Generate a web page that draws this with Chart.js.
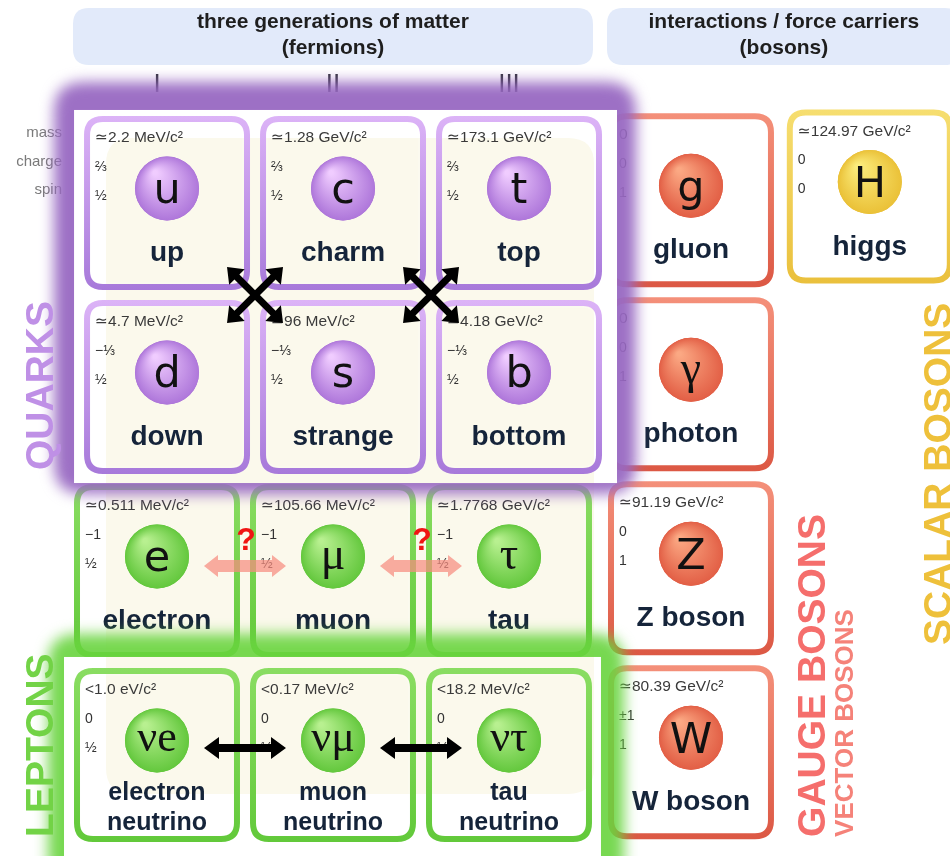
<!DOCTYPE html>
<html>
<head>
<meta charset="utf-8">
<script src="https://cdn.jsdelivr.net/npm/chart.js@4.4.1/dist/chart.umd.min.js"></script>
<style>
html,body{margin:0;padding:0;background:#ffffff;}
#wrap{width:950px;height:856px;position:relative;}
</style>
</head>
<body>
<div id="wrap"><canvas id="c"></canvas></div>
<script>
// ---------------- DATA ----------------
const symbols  = ['u','c','t','d','s','b','e','μ','τ','νe','νμ','ντ','g','γ','Z','W','H'];
const names    = ['up','charm','top','down','strange','bottom','electron','muon','tau',
                  'electron\nneutrino','muon\nneutrino','tau\nneutrino','gluon','photon','Z boson','W boson','higgs'];
const masses   = ['≃2.2 MeV/c²','≃1.28 GeV/c²','≃173.1 GeV/c²','≃4.7 MeV/c²','≃96 MeV/c²','≃4.18 GeV/c²',
                  '≃0.511 MeV/c²','≃105.66 MeV/c²','≃1.7768 GeV/c²','<1.0 eV/c²','<0.17 MeV/c²','<18.2 MeV/c²',
                  '0','0','≃91.19 GeV/c²','≃80.39 GeV/c²','≃124.97 GeV/c²'];
const charges  = ['⅔','⅔','⅔','−⅓','−⅓','−⅓','−1','−1','−1','0','0','0','0','0','0','±1','0'];
const spins    = ['½','½','½','½','½','½','½','½','½','½','½','½','1','1','1','1','0'];
const columns  = [0,1,2,0,1,2,0,1,2,0,1,2,3,3,3,3,4];
const rows     = [0,0,0,1,1,1,2,2,2,3,3,3,0,1,2,3,0];
const families = ['quark','quark','quark','quark','quark','quark',
                  'lepton','lepton','lepton','neutrino','neutrino','neutrino',
                  'gauge','gauge','gauge','gauge','scalar'];
const generationLabels = ['I','II','III'];
const propertyLabels   = ['mass','charge','spin'];
const headerLines      = [['three generations of matter','(fermions)'],['interactions / force carriers','(bosons)']];
const groupLabels      = ['QUARKS','LEPTONS','GAUGE BOSONS','VECTOR BOSONS','SCALAR BOSONS'];
const quarkMixing      = [0,1];   // X-arrows between generation k and k+1
const leptonMixing     = [0,1];   // arrows between generation k and k+1

// ---------------- LAYOUT / STYLE ----------------
const X_MIN=-0.892, X_MAX=4.5057, Y_MIN=-1.1033, Y_MAX=3.5489;
const CELL_W=0.943, CELL_H=0.946, CIRCLE_DY=-0.079;
const familyOffset = {quark:{dx:0.057,dy:0}, lepton:{dx:0,dy:0}, neutrino:{dx:0,dy:0},
                      gauge:{dx:0.034,dy:-0.015}, scalar:{dx:0.05,dy:-0.035}};
const style = {
  quark:   {border:['#dcb3f7','#a779da'], circle:['#f0ccff','#a56bd5'], fill:'rgba(0,0,0,0)'},
  lepton:  {border:['#8add62','#62c93a'], circle:['#b8f090','#58c232'], fill:'rgba(0,0,0,0)'},
  neutrino:{border:['#8add62','#62c93a'], circle:['#b8f090','#58c232'], fill:'rgba(0,0,0,0)'},
  gauge:   {border:['#f4907a','#dc5844'], circle:['#fba883','#df553d'], fill:'#ffffff'},
  scalar:  {border:['#f6de70','#eac03c'], circle:['#fbec7c','#e8bb2e'], fill:'#ffffff'}
};
const groupLabelLayout = [
  {x:-0.591, y:1.451, size:39, color:'#bf90e6'},
  {x:-0.591, y:3.445, size:39, color:'#72d346'},
  {x:3.795,  y:3.445, size:39, color:'#f56e6c'},
  {x:3.954,  y:3.445, size:26, color:'#f58279'},
  {x:4.511,  y:2.402, size:39, color:'#eec03a'}
];
const HEADER_ROW=-0.905, NUMERAL_ROW=-0.64;
const SANS='"Liberation Sans", Arial, "DejaVu Sans", sans-serif';

function rrect(ctx,x,y,w,h,r){
  ctx.beginPath();
  ctx.moveTo(x+r,y); ctx.lineTo(x+w-r,y); ctx.quadraticCurveTo(x+w,y,x+w,y+r);
  ctx.lineTo(x+w,y+h-r); ctx.quadraticCurveTo(x+w,y+h,x+w-r,y+h);
  ctx.lineTo(x+r,y+h); ctx.quadraticCurveTo(x,y+h,x,y+h-r);
  ctx.lineTo(x,y+r); ctx.quadraticCurveTo(x,y,x+r,y); ctx.closePath();
}
function cellBox(chart,i){
  const xs=chart.scales.x, ys=chart.scales.y, f=familyOffset[families[i]];
  const cx=xs.getPixelForValue(columns[i]+f.dx), cy=ys.getPixelForValue(rows[i]+f.dy);
  const w=Math.abs(xs.getPixelForValue(CELL_W)-xs.getPixelForValue(0));
  const h=Math.abs(ys.getPixelForValue(CELL_H)-ys.getPixelForValue(0));
  return {x:cx-w/2,y:cy-h/2,w,h,cx,cy};
}
function bounds(chart,pred){
  let l=1e9,t=1e9,r=-1e9,b=-1e9;
  symbols.forEach((_,i)=>{ if(!pred(i))return; const c=cellBox(chart,i);
    l=Math.min(l,c.x); t=Math.min(t,c.y); r=Math.max(r,c.x+c.w); b=Math.max(b,c.y+c.h); });
  return {l,t,r,b};
}
function drawCell(ctx,c,fam){
  const s=style[fam];
  rrect(ctx,c.x+3,c.y+3,c.w-6,c.h-6,16);
  ctx.fillStyle=s.fill; ctx.fill();
  const g=ctx.createLinearGradient(0,c.y,0,c.y+c.h);
  g.addColorStop(0,s.border[0]); g.addColorStop(1,s.border[1]);
  ctx.lineWidth=6; ctx.strokeStyle=g; ctx.stroke();
  rrect(ctx,c.x+7,c.y+7,c.w-14,c.h-14,12);
  ctx.lineWidth=1; ctx.strokeStyle='rgba(255,255,255,0.35)'; ctx.stroke();
}
function drawCellText(ctx,c,i){
  ctx.fillStyle='#3a3a3a'; ctx.textAlign='left'; ctx.textBaseline='middle';
  ctx.font='15.5px '+SANS; ctx.fillText(masses[i],c.x+11,c.y+22);
  ctx.font='14px '+SANS; ctx.fillStyle='#333';
  ctx.fillText(charges[i],c.x+11,c.y+51);
  ctx.fillText(spins[i],c.x+11,c.y+80);
  ctx.fillStyle='#15243a'; ctx.textAlign='center'; ctx.textBaseline='alphabetic';
  const lines=names[i].split('\n');
  if(lines.length===1){ ctx.font='bold 28px '+SANS; ctx.fillText(lines[0],c.cx,c.y+145); }
  else { ctx.font='bold 25px '+SANS; ctx.fillText(lines[0],c.cx,c.y+132); ctx.fillText(lines[1],c.cx,c.y+162); }
}
function dblArrow(ctx,x1,y1,x2,y2,sw,hl,hw,color){
  const L=Math.hypot(x2-x1,y2-y1), ux=(x2-x1)/L, uy=(y2-y1)/L, nx=-uy, ny=ux;
  const a=[x1+ux*hl,y1+uy*hl], b=[x2-ux*hl,y2-uy*hl];
  ctx.beginPath();
  ctx.moveTo(x1,y1);
  ctx.lineTo(a[0]+nx*hw,a[1]+ny*hw); ctx.lineTo(a[0]+nx*sw/2,a[1]+ny*sw/2);
  ctx.lineTo(b[0]+nx*sw/2,b[1]+ny*sw/2); ctx.lineTo(b[0]+nx*hw,b[1]+ny*hw);
  ctx.lineTo(x2,y2);
  ctx.lineTo(b[0]-nx*hw,b[1]-ny*hw); ctx.lineTo(b[0]-nx*sw/2,b[1]-ny*sw/2);
  ctx.lineTo(a[0]-nx*sw/2,a[1]-ny*sw/2); ctx.lineTo(a[0]-nx*hw,a[1]-ny*hw);
  ctx.closePath(); ctx.fillStyle=color; ctx.fill();
}

const tablePlugin = {
  id:'particleTable',
  beforeDatasetsDraw(chart){
    const ctx=chart.ctx, xs=chart.scales.x, ys=chart.scales.y;
    ctx.save();
    const fb=bounds(chart,i=>families[i]==='lepton'||families[i]==='neutrino');
    const bb=bounds(chart,i=>families[i]==='gauge'||families[i]==='scalar');
    const hy=ys.getPixelForValue(HEADER_ROW);
    const banners=[[fb.l-1,fb.r+1],[bb.l-1,bb.r+8]];
    banners.forEach((bn,k)=>{
      rrect(ctx,bn[0],hy-28.5,bn[1]-bn[0],57,16); ctx.fillStyle='#e2eafa'; ctx.fill();
      ctx.fillStyle='#1e1e1e'; ctx.font='bold 21px '+SANS; ctx.textAlign='center'; ctx.textBaseline='middle';
      const mx=(bn[0]+bn[1])/2;
      ctx.fillText(headerLines[k][0],mx,hy-14); ctx.fillText(headerLines[k][1],mx,hy+12);
    });
    ctx.font='26px '+SANS; ctx.fillStyle='#33333d'; ctx.textAlign='center'; ctx.textBaseline='middle';
    generationLabels.forEach((g,k)=>ctx.fillText(g,xs.getPixelForValue(k),ys.getPixelForValue(NUMERAL_ROW)));
    const up=cellBox(chart,0);
    ctx.font='15px '+SANS; ctx.fillStyle='#7a7a7a'; ctx.textAlign='right';
    propertyLabels.forEach((p,k)=>ctx.fillText(p,62,up.y+17+k*28.5));
    const ferm=bounds(chart,i=>families[i]!=='gauge'&&families[i]!=='scalar');
    const drawBlob=()=>{ rrect(ctx,ferm.l+32,ferm.t+22,ferm.r-ferm.l-40,ferm.b-ferm.t-70,26); ctx.fillStyle='#fbf9ec'; ctx.fill(); };
    drawBlob();
    const outer=i=>families[i]==='lepton'||families[i]==='gauge'||families[i]==='scalar';
    symbols.forEach((_,i)=>{ if(outer(i)) drawCell(ctx,cellBox(chart,i),families[i]); });
    symbols.forEach((_,i)=>{ if(outer(i)) drawCellText(ctx,cellBox(chart,i),i); });
    const qb=bounds(chart,i=>families[i]==='quark');
    const nb=bounds(chart,i=>families[i]==='neutrino');
    ctx.save(); ctx.filter='blur(7px)';
    rrect(ctx,qb.l-30,qb.t-34,qb.r-qb.l+64,qb.b-qb.t+54,30); ctx.fillStyle='rgba(152,104,194,0.95)'; ctx.fill();
    rrect(ctx,nb.l-26,nb.t-34,nb.r-nb.l+58,nb.b-nb.t+80,30); ctx.fillStyle='rgba(104,212,62,0.9)'; ctx.fill();
    ctx.restore();
    const wq={x:qb.l-10,y:qb.t-6,w:qb.r-qb.l+25,h:qb.b-qb.t+15};
    const wn={x:nb.l-10,y:nb.t-11,w:nb.r-nb.l+19,h:nb.b-nb.t+40};
    ctx.fillStyle='#ffffff'; ctx.fillRect(wq.x,wq.y,wq.w,wq.h); ctx.fillRect(wn.x,wn.y,wn.w,wn.h);
    ctx.save(); ctx.beginPath(); ctx.rect(wq.x,wq.y,wq.w,wq.h); ctx.rect(wn.x,wn.y,wn.w,wn.h); ctx.clip(); drawBlob(); ctx.restore();
    symbols.forEach((_,i)=>{ if(!outer(i)) drawCell(ctx,cellBox(chart,i),families[i]); });
    symbols.forEach((_,i)=>{ if(!outer(i)) drawCellText(ctx,cellBox(chart,i),i); });
    ctx.restore();
  },
  afterDatasetsDraw(chart){
    const ctx=chart.ctx, xs=chart.scales.x, ys=chart.scales.y;
    const pts=chart.getDatasetMeta(0).data;
    ctx.save();
    pts.forEach((p,i)=>{
      const s=style[families[i]];
      const g=ctx.createRadialGradient(p.x-12,p.y-16,2,p.x+2,p.y+2,36);
      g.addColorStop(0,s.circle[0]); g.addColorStop(1,s.circle[1]);
      ctx.beginPath(); ctx.arc(p.x,p.y,p.options.radius,0,Math.PI*2); ctx.fillStyle=g; ctx.fill();
    });
    ctx.fillStyle='#111'; ctx.textAlign='center'; ctx.textBaseline='alphabetic';
    symbols.forEach((s,i)=>{
      const p=pts[i]; const greek=/[μτγν]/.test(s);
      if(greek){ ctx.font=(s.length>1?'44px ':'46px ')+'"Liberation Serif", "DejaVu Serif", serif'; ctx.fillText(s,p.x,p.y+(s.length>1?11:13)); }
      else { ctx.font='43px "DejaVu Sans", sans-serif'; ctx.fillText(s,p.x,p.y+15); }
    });
    const qdx=familyOffset.quark.dx;
    quarkMixing.forEach(k=>{
      const cx=xs.getPixelForValue(k+0.5+qdx), cy=ys.getPixelForValue(0.5);
      dblArrow(ctx,cx-28,cy-28,cx+28,cy+28,7,14,11,'#000');
      dblArrow(ctx,cx+28,cy-28,cx-28,cy+28,7,14,11,'#000');
    });
    leptonMixing.forEach(k=>{
      const mx=xs.getPixelForValue(k+0.5);
      const yl=ys.getPixelForValue(2)-5, yn=ys.getPixelForValue(3)-7;
      dblArrow(ctx,mx-41,yl,mx+41,yl,12,14,11,'rgba(247,140,128,0.72)');
      ctx.font='bold 32px '+SANS; ctx.fillStyle='#f01414'; ctx.textAlign='center'; ctx.textBaseline='alphabetic';
      ctx.fillText('?',mx+1,ys.getPixelForValue(2)-21);
      dblArrow(ctx,mx-41,yn,mx+41,yn,8,15,11,'#000');
    });
    groupLabels.forEach((t,k)=>{
      const L=groupLabelLayout[k];
      ctx.save(); ctx.translate(xs.getPixelForValue(L.x),ys.getPixelForValue(L.y)); ctx.rotate(-Math.PI/2);
      ctx.font='bold '+L.size+'px '+SANS; ctx.fillStyle=L.color; ctx.textAlign='left'; ctx.textBaseline='alphabetic';
      ctx.fillText(t,0,0); ctx.restore();
    });
    ctx.restore();
  }
};

const pointData = symbols.map((s,i)=>({x:columns[i]+familyOffset[families[i]].dx, y:rows[i]+familyOffset[families[i]].dy+CIRCLE_DY}));

new Chart(document.getElementById('c'),{
  type:'scatter',
  data:{datasets:[{
    data:pointData,
    pointRadius:32, pointHoverRadius:32, borderWidth:0, pointBorderWidth:0,
    pointBackgroundColor:families.map(f=>style[f].circle[1])
  }]},
  options:{
    responsive:true, maintainAspectRatio:false, animation:false, events:[],
    layout:{padding:0, autoPadding:false},
    scales:{
      x:{type:'linear',min:X_MIN,max:X_MAX,display:false},
      y:{type:'linear',min:Y_MIN,max:Y_MAX,reverse:true,display:false}
    },
    plugins:{legend:{display:false},tooltip:{enabled:false}}
  },
  plugins:[tablePlugin]
});
</script>
</body>
</html>
